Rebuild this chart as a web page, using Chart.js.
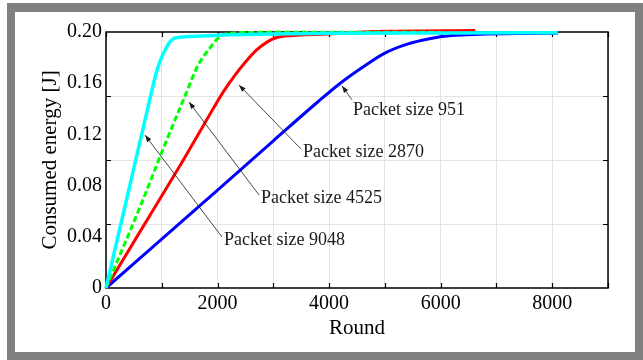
<!DOCTYPE html>
<html>
<head>
<meta charset="utf-8">
<script src="https://cdn.jsdelivr.net/npm/chart.js@4.4.1/dist/chart.umd.min.js"></script>
<style>
  html, body { margin: 0; padding: 0; background: #fff; }
  #frame { position: absolute; left: 7px; top: 3px; width: 636px; height: 357px; background: #808080; }
  #inner { position: absolute; left: 15px; top: 12px; width: 620px; height: 340px; background: #fff; }
  #wrap { position: absolute; left: 0; top: 0; width: 643px; height: 360px; }
</style>
</head>
<body>
<div id="frame"></div>
<div id="inner"></div>
<div id="wrap"><canvas id="energyChart"></canvas></div>
<script>
// values (round, consumed energy in J)
const rounds9048 = [0, 400, 800, 870, 940, 1010, 1080, 1150, 1210, 1270, 1600, 2000, 3000, 4000, 6000, 8100];
const energy9048 = [0, 0.075, 0.150, 0.163, 0.1735, 0.1815, 0.1875, 0.1925, 0.1948, 0.1956, 0.1966, 0.1975, 0.1985, 0.199, 0.1993, 0.1995];

const rounds4525 = [0, 663, 1000, 1416, 1650, 1864, 2007, 2100, 2300, 2600, 6000];
const energy4525 = [0, 0.069, 0.106, 0.150, 0.174, 0.1875, 0.195, 0.1977, 0.1993, 0.1997, 0.1998];

const rounds2870 = [0, 700, 1400, 1700, 1900, 2100, 2300, 2500, 2700, 2900, 3050, 3200, 4000, 5000, 6620];
const energy2870 = [0, 0.0505, 0.101, 0.1235, 0.1385, 0.153, 0.1655, 0.1765, 0.186, 0.1925, 0.1955, 0.1968, 0.1985, 0.2005, 0.2012];

const rounds951 = [0, 2000, 3000, 3800, 4200, 4600, 5000, 5400, 5800, 6200, 6700, 7500, 8100];
const energy951 = [0, 0.0765, 0.115, 0.1455, 0.160, 0.1725, 0.1835, 0.1905, 0.1948, 0.1972, 0.1982, 0.1988, 0.199];

const xTicks = [0, 1000, 2000, 3000, 4000, 5000, 6000, 7000, 8000, 9000];
const xLabelEvery = 2000;
const yTicks = [0, 0.04, 0.08, 0.12, 0.16, 0.20];
const yGrid = [0.05, 0.10, 0.15];

// annotation arrows: text, arrow head, arrow tail, text anchor (data units)
const noteText = ['Packet size 951', 'Packet size 2870', 'Packet size 4525', 'Packet size 9048'];
const noteHead = [[4231, 0.158], [2384, 0.1586], [1488, 0.1453], [699, 0.1195]];
const noteTail = [[4410, 0.147], [3496, 0.1086], [2743, 0.0727], [2080, 0.0398]];
const noteAt = [[4428, 0.139], [3532, 0.106], [2779, 0.0703], [2115, 0.0375]];

function toPoints(xs, ys) {
    return xs.map((x, i) => ({ x: x, y: ys[i] }));
}

const serif = "'Liberation Serif', 'Times New Roman', serif";

const framePlugin = {
    id: 'frame',
    beforeDatasetsDraw(chart) {
        const { ctx, chartArea: a, scales } = chart;
        ctx.save();
        ctx.strokeStyle = '#e3e3e3';
        ctx.lineWidth = 1;
        yGrid.forEach(v => {
            const y = Math.round(scales.y.getPixelForValue(v)) + 0.5;
            ctx.beginPath();
            ctx.moveTo(a.left, y);
            ctx.lineTo(a.right, y);
            ctx.stroke();
        });
        ctx.strokeStyle = '#000';
        ctx.lineWidth = 1.5;
        ctx.strokeRect(a.left, a.top, a.right - a.left, a.bottom - a.top);
        ctx.lineWidth = 1.2;
        const len = 5;
        ctx.beginPath();
        yGrid.forEach(v => {
            const y = Math.round(scales.y.getPixelForValue(v)) + 0.5;
            ctx.moveTo(a.left, y); ctx.lineTo(a.left + len, y);
            ctx.moveTo(a.right, y); ctx.lineTo(a.right - len, y);
        });
        xTicks.forEach(v => {
            const x = Math.round(scales.x.getPixelForValue(v)) + 0.5;
            ctx.moveTo(x, a.bottom); ctx.lineTo(x, a.bottom - len);
            ctx.moveTo(x, a.top); ctx.lineTo(x, a.top + len);
        });
        ctx.stroke();
        ctx.restore();
    },
    afterDatasetsDraw(chart) {
        const { ctx, scales } = chart;
        const px = p => [scales.x.getPixelForValue(p[0]), scales.y.getPixelForValue(p[1])];
        ctx.save();
        ctx.strokeStyle = '#1a1a1a';
        ctx.fillStyle = '#1a1a1a';
        ctx.lineWidth = 0.8;
        noteText.forEach((t, i) => {
            const [hx, hy] = px(noteHead[i]);
            const [tx, ty] = px(noteTail[i]);
            ctx.beginPath();
            ctx.moveTo(tx, ty);
            ctx.lineTo(hx, hy);
            ctx.stroke();
            const ang = Math.atan2(hy - ty, hx - tx);
            const L = 7, W = 2.5;
            ctx.beginPath();
            ctx.moveTo(hx, hy);
            ctx.lineTo(hx - L * Math.cos(ang) + W * Math.sin(ang), hy - L * Math.sin(ang) - W * Math.cos(ang));
            ctx.lineTo(hx - L * Math.cos(ang) - W * Math.sin(ang), hy - L * Math.sin(ang) + W * Math.cos(ang));
            ctx.closePath();
            ctx.fill();
            const [lx, ly] = px(noteAt[i]);
            ctx.font = '18px ' + serif;
            ctx.textAlign = 'left';
            ctx.textBaseline = 'middle';
            ctx.fillText(t, lx, ly);
        });
        ctx.restore();
    }
};

const ctx = document.getElementById('energyChart').getContext('2d');
new Chart(ctx, {
    type: 'line',
    data: {
        datasets: [{
            label: 'Packet size 9048',
            data: toPoints(rounds9048, energy9048),
            borderColor: '#00ffff',
            borderWidth: 3.5,
            order: 0
        }, {
            label: 'Packet size 4525',
            data: toPoints(rounds4525, energy4525),
            borderColor: '#00ff00',
            borderWidth: 3,
            borderDash: [6, 3],
            order: 1
        }, {
            label: 'Packet size 2870',
            data: toPoints(rounds2870, energy2870),
            borderColor: '#ff0000',
            borderWidth: 3,
            order: 2
        }, {
            label: 'Packet size 951',
            data: toPoints(rounds951, energy951),
            borderColor: '#0000ff',
            borderWidth: 3,
            order: 3
        }]
    },
    options: {
        responsive: true,
        maintainAspectRatio: false,
        animation: false,
        layout: { padding: { top: 32, right: 35, left: 0, bottom: 0 } },
        elements: {
            point: { radius: 0 },
            line: { cubicInterpolationMode: 'monotone', fill: false }
        },
        datasets: { line: { clip: 6 } },
        plugins: { legend: { display: false }, tooltip: { enabled: false } },
        scales: {
            x: {
                type: 'linear',
                min: 0,
                max: 9000,
                afterBuildTicks: s => { s.ticks = xTicks.map(v => ({ value: v })); },
                afterFit: s => { s.height = 72; },
                border: { display: false },
                grid: { color: '#e3e3e3', drawTicks: false },
                ticks: {
                    autoSkip: false,
                    maxRotation: 0,
                    padding: 4,
                    color: '#000',
                    font: { family: serif, size: 20 },
                    callback: v => (v % xLabelEvery === 0 ? String(v) : '')
                },
                title: {
                    display: true,
                    text: 'Round',
                    color: '#000',
                    font: { family: serif, size: 21 },
                    padding: { top: 4, bottom: 19 }
                }
            },
            y: {
                type: 'linear',
                min: 0,
                max: 0.2,
                afterBuildTicks: s => { s.ticks = yTicks.map(v => ({ value: v })); },
                afterFit: s => { s.width = 106; },
                border: { display: false },
                grid: { display: false, drawTicks: false },
                ticks: {
                    autoSkip: false,
                    padding: 4,
                    color: '#000',
                    font: { family: serif, size: 20 },
                    callback: v => (v === 0 ? '0' : v.toFixed(2))
                },
                title: {
                    display: true,
                    text: 'Consumed energy [J]',
                    color: '#000',
                    font: { family: serif, size: 21 },
                    padding: { top: 38, bottom: 0 }
                }
            }
        }
    },
    plugins: [framePlugin]
});
</script>
</body>
</html>
